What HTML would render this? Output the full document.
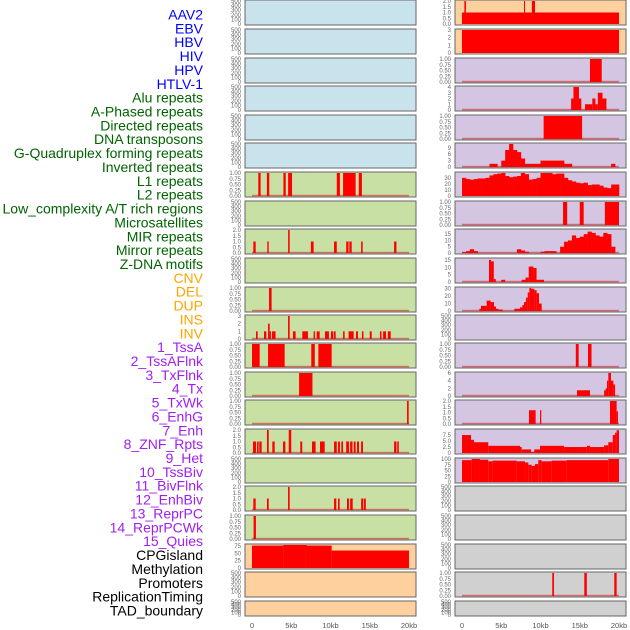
<!DOCTYPE html>
<html><head><meta charset="utf-8"><style>
body{margin:0;background:#fff;width:630px;height:630px;overflow:hidden}
svg{display:block}
text{font-family:"Liberation Sans",sans-serif}
</style></head><body>
<svg id="c" width="630" height="630"></svg>
<script>
const NS="http://www.w3.org/2000/svg";
const svg=document.getElementById('c');
// ---- data ----
const labelNames=["AAV2","EBV","HBV","HIV","HPV","HTLV-1","Alu repeats","A-Phased repeats","Directed repeats","DNA transposons","G-Quadruplex forming repeats","Inverted repeats","L1 repeats","L2 repeats","Low_complexity A/T rich regions","Microsatellites","MIR repeats","Mirror repeats","Z-DNA motifs","CNV","DEL","DUP","INS","INV","1_TssA","2_TssAFlnk","3_TxFlnk","4_Tx","5_TxWk","6_EnhG","7_Enh","8_ZNF_Rpts","9_Het","10_TssBiv","11_BivFlnk","12_EnhBiv","13_ReprPC","14_ReprPCWk","15_Quies","CPGisland","Methylation","Promoters","ReplicationTiming","TAD_boundary"];
const labelGroups=[0,0,0,0,0,0,1,1,1,1,1,1,1,1,1,1,1,1,1,2,2,2,2,2,3,3,3,3,3,3,3,3,3,3,3,3,3,3,3,4,4,4,4,4];
const groupColors=["#0000ff","#006400","#ffa500","#a020f0","#000000"];
const xTicks=[0,5,10,15,20];
const xTickLabels=["0","5kb","10kb","15kb","20kb"];
const T500=["0","100","200","300","400","500"], V500=[0,100,200,300,400,500];
const T1=["0.00","0.25","0.50","0.75","1.00"], V1=[0,0.25,0.5,0.75,1];
const T2=["0.0","0.5","1.0","1.5","2.0"], V2=[0,0.5,1,1.5,2];
const L1_segs=[[0.8,1.1,1],[1.9,2.2,1],[4.0,4.3,1],[4.6,5.1,1],[10.8,11.2,1],[11.6,13.2,1],[13.6,14.0,1]];
const MIR_segs=[[0.17,0.47,1],[1.95,2.13,1],[4.6,4.8,2],[7.5,7.85,1],[10.45,10.8,1],[12.0,12.3,1],[12.4,12.7,1],[13.9,14.1,1],[18.1,18.4,1]];
const ZDNA_segs=[[2.17,2.5,1]];
const CNV_segs=[[0.51,0.72,1],[1.53,1.83,1],[2.04,2.25,2],[2.25,2.42,1],[2.55,3.0,1],[4.59,4.8,3],[5.22,5.56,1],[6.41,7.13,1],[7.85,8.03,1],[8.24,8.62,1],[9.3,9.8,1],[10.06,10.36,1],[10.45,10.66,1],[11.6,11.8,1],[12.3,12.95,1],[13.25,13.5,1],[14.0,14.2,1],[15.0,15.25,1],[16.3,16.5,1],[16.7,17.07,1],[17.3,17.67,1]];
const TssA_segs=[[0,0.98,1],[2.04,4.16,1],[7.55,8.0,1],[8.45,10.15,1]];
const TssAFlnk_segs=[[6.0,7.7,1]];
const TxFlnk_segs=[[19.75,19.96,1]];
const Tx_segs=[[0.13,0.51,1],[0.64,0.85,1],[0.93,1.23,1],[1.91,2.13,2],[2.59,2.89,1],[3.95,4.25,1],[4.68,5.0,2],[6.15,6.4,1],[7.64,8.1,1],[8.66,9.26,1],[10.45,10.8,1],[10.96,11.2,1],[11.38,11.6,1],[12.0,12.35,1],[12.5,12.8,1],[12.96,13.2,1],[13.38,13.63,1],[13.9,14.14,1],[18.1,18.4,1],[18.5,18.7,1]];
const EnhG_segs=[[0.17,0.47,1],[1.91,2.13,1],[4.59,4.8,2],[10.45,10.74,1],[10.96,11.17,1],[12.1,12.35,1],[12.5,12.83,1],[13.9,14.14,1],[14.23,14.5,1]];
const Enh_segs=[[0.2,0.5,1]];
const CPG_segs=[[0,4.0,77],[4.0,7.0,80],[7.0,10.15,77],[10.15,20.0,60]];
const R0_segs=[[0,20,1],[0.3,0.5,2],[7.9,8.0,2],[8.9,9.3,2]];
const R1_segs=[[0,20,3]];
const R2_segs=[[16.3,17.8,1]];
const R3_segs=[[13.9,14.2,2],[14.2,14.9,4],[14.9,15.2,2],[15.67,16.6,1],[16.6,17.0,2],[17.0,17.3,1],[17.3,17.9,3],[17.9,18.4,2]];
const R4_segs=[[10.4,15.3,1]];
const R5_bins=[0,0,0,0,0,0,0,1.5,1.5,0,3,8,11,8,7,4,1.5,1.5,1.5,1.5,3,3,3,3,3,3,1.5,1.5,0,0,0,0,0,0,0,0,0,0,1.5,0];
const R6_bins=[30,28,27,28,29,29,30,34,36,37,38,33,31,32,33,38,36,27,28,30,38,38,38,36,37,37,30,26,24,22,21,22,18,19,19,17,14,13,19,19];
const R7_segs=[[12.87,13.4,1],[15.0,15.5,1],[18.2,20.0,1]];
const R8_bins=[0.7,1.5,3,1.5,0,0,0,0,0,0,0,0,0,0,3,2,1,0,0,0,1,1.5,1.5,1.5,0,5,9,10,14,12,13,15,17,16,14,13,16,15,5,0];
const R9_segs=[[3.44,3.7,15],[3.7,4.05,14],[4.05,4.3,2],[5.0,5.5,1.5],[7.6,8.1,1.5],[8.1,8.5,3],[8.5,9.1,10.5],[9.1,9.5,9.5],[9.5,10.45,1.5]];
const R10_segs=[[2.21,2.42,3],[2.42,3.14,7],[3.14,3.65,14],[3.65,4.08,12],[4.08,4.33,6],[4.33,4.63,3],[4.63,5.18,2],[6.67,7.39,3],[7.39,7.69,5],[7.69,7.9,8],[7.9,8.15,12],[8.15,8.37,18],[8.37,8.58,25],[8.58,8.79,31],[8.79,9.22,30],[9.22,9.51,28],[9.51,9.81,24],[9.81,10.15,10]];
const R12_segs=[[14.5,14.86,1],[16.05,16.5,1]];
const R13_segs=[[14.65,16.3,1.5],[18.1,18.3,1.5],[18.3,18.47,2],[18.47,18.64,4],[18.64,18.98,6],[18.98,19.28,4],[19.28,19.5,3]];
const R14_segs=[[8.53,9.38,1.2],[9.94,10.1,1.2],[18.85,19.7,2],[19.7,19.87,1.1]];
const R15_segs=[[0,1.15,7.5],[1.15,1.53,5.5],[1.53,3.35,4.5],[3.35,7.39,3],[7.39,7.6,2.5],[7.6,8.8,1.5],[8.8,9.2,0.5],[9.2,9.94,1.5],[9.94,13.0,3],[13.0,15.9,2.5],[15.9,16.3,3],[16.3,18.1,2.5],[18.1,18.64,3.2],[18.64,19.2,4.5],[19.2,19.5,7.5],[19.5,19.7,8.5],[19.7,20.0,9.5]];
const R16_segs=[[0,1.23,95],[1.23,2.29,100],[2.29,3.35,97],[3.35,3.9,90],[3.9,6.96,93],[6.96,8.03,90],[8.03,8.45,85],[8.45,8.87,75],[8.87,9.3,70],[9.3,9.72,78],[9.72,10.15,95],[10.15,11.42,90],[11.42,13.33,93],[13.33,18.64,95],[18.64,20.0,100]];
const R20_segs=[[11.5,11.72,1],[15.58,15.9,1],[19.4,19.7,1]];
// ---- layout ----
const rowTops=[0,29,58,86,115,143,172,201,229,258,287,315,343,372,400,429,458,486,515,544,572,601];
const colX=[245,455], colW=171, x0off=7, pxPerKb=7.85;
const BG={b:"#c9e3ec",g:"#c9e0a4",o:"#fed09e",p:"#d4c5e2",y:"#d0d0d0"};
function P(bg,tl,tv,max,segs,bins,base){return{bg,tl,tv,max,segs,bins,base};}
const E=bg=>P(bg,T500,V500,500,null,null,false);
const left=[E('b'),E('b'),E('b'),E('b'),E('b'),E('b'),
 P('g',T1,V1,1,L1_segs,null,true),E('g'),P('g',T2,V2,2,MIR_segs,null,true),E('g'),
 P('g',T1,V1,1,ZDNA_segs,null,true),P('g',["0","1","2","3"],[0,1,2,3],3,CNV_segs,null,true),
 P('g',T1,V1,1,TssA_segs,null,true),P('g',T1,V1,1,TssAFlnk_segs,null,true),P('g',T1,V1,1,TxFlnk_segs,null,true),
 P('g',T2,V2,2,Tx_segs,null,true),E('g'),P('g',T2,V2,2,EnhG_segs,null,true),P('g',T1,V1,1,Enh_segs,null,true),
 P('o',["0","25","50","75"],[0,25,50,75],79,CPG_segs,null,false),E('o'),E('o')];
const right=[P('o',T2,V2,2,R0_segs,null,false),P('o',["0","1","2","3"],[0,1,2,3],3,R1_segs,null,false),
 P('p',T1,V1,1,R2_segs,null,true),P('p',["0","1","2","3","4"],[0,1,2,3,4],4,R3_segs,null,true),
 P('p',T1,V1,1,R4_segs,null,true),P('p',["0","3","6","9"],[0,3,6,9],10.8,null,R5_bins,true),
 P('p',["0","10","20","30"],[0,10,20,30],38,null,R6_bins,false),P('p',T1,V1,1,R7_segs,null,true),
 P('p',["0","5","10","15"],[0,5,10,15],18.3,null,R8_bins,true),P('p',["0","5","10","15"],[0,5,10,15],15.6,R9_segs,null,true),
 P('p',["0","10","20","30"],[0,10,20,30],31,R10_segs,null,true),E('p'),P('p',T1,V1,1,R12_segs,null,true),
 P('p',["0","2","4","6"],[0,2,4,6],6,R13_segs,null,true),P('p',T2,V2,2,R14_segs,null,true),
 P('p',["0","2.5","5.0","7.5"],[0,2.5,5,7.5],9.6,R15_segs,null,false),P('p',["0","25","50","75","100"],[0,25,50,75,100],100,R16_segs,null,false),
 E('y'),E('y'),E('y'),P('y',T1,V1,1,R20_segs,null,true),E('y')];
function mk(tag,a,parent){const e=document.createElementNS(NS,tag);for(const k in a)e.setAttribute(k,a[k]);(parent||svg).appendChild(e);return e;}
// labels
labelNames.forEach((n,i)=>{
 const t=mk('text',{x:203,y:19.5+i*13.86,'text-anchor':'end','font-size':14,fill:groupColors[labelGroups[i]]});
 t.textContent=n;
 
 
});
[left,right].forEach((col,ci)=>{
 col.forEach((p,ri)=>{
  const top=rowTops[ri], h=(ri===21?15:25), bx=colX[ci];
  const g=mk('g',{});
  
  
  mk('rect',{x:bx,y:top,width:colW,height:h,fill:BG[p.bg],stroke:'#666','stroke-width':1},g);
  const yb=top+h-1, yh=h-2;
  const yS=v=>yb-Math.min(v,p.max)/p.max*yh;
  const xS=k=>bx+x0off+k*pxPerKb;
  p.tv.forEach((v,i)=>{const t=mk('text',{x:bx-4,y:yS(v)+2,'text-anchor':'end','font-size':6,fill:'#666'},g);t.textContent=p.tl[i];
   });
  if(p.base){const b=mk('rect',{x:xS(0),y:yb-1.2,width:xS(20)-xS(0),height:1.5,fill:'rgba(210,40,40,0.6)'},g);
   }
  if(p.segs)p.segs.forEach(s=>{const r=mk('rect',{x:xS(s[0]),y:yS(s[2]),width:Math.max(1,xS(s[1])-xS(s[0])),height:yb-yS(s[2]),fill:'#ff0000'},g);
   });
  if(p.bins)p.bins.forEach((v,i)=>{if(v<=0)return;const r=mk('rect',{x:xS(i*0.5),y:yS(v),width:xS(0.5)-xS(0)+0.3,height:yb-yS(v),fill:'#ff0000'},g);
   });
 });
 xTicks.forEach((k,i)=>{const t=mk('text',{x:colX[ci]+x0off+k*pxPerKb,y:628,'text-anchor':'middle','font-size':7.5,fill:'#555'});t.textContent=xTickLabels[i];
  });
});
</script>
</body></html>
